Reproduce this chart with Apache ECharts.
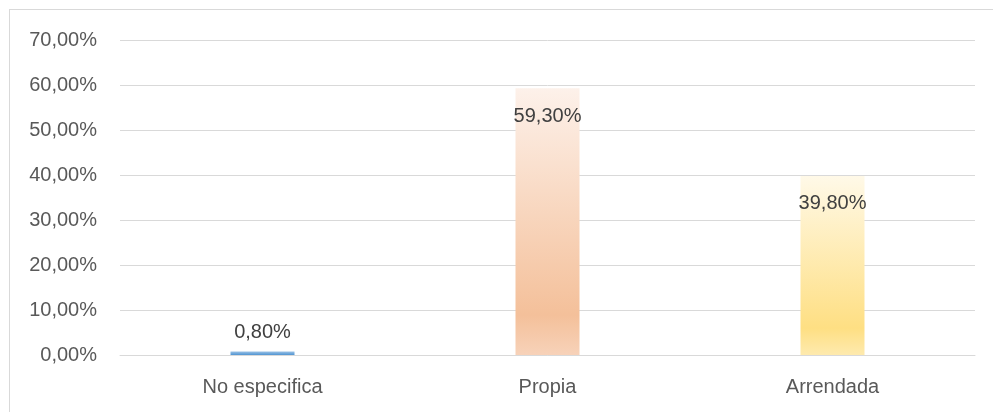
<!DOCTYPE html>
<html><head><meta charset="utf-8">
<script src="https://cdn.jsdelivr.net/npm/echarts@6/dist/echarts.min.js"></script>
<style>html,body{margin:0;padding:0;background:#fff}#c{width:993px;height:412px}
#frame{position:absolute;left:9px;top:9px;width:990px;height:420px;border:1px solid #d9d9d9;box-sizing:border-box;pointer-events:none}</style>
</head><body><div id="c"></div><div id="frame"></div>
<script>
const categories = ['No especifica', 'Propia', 'Arrendada'];
const values = [0.8, 59.3, 39.8];
const yTicks = [0, 10, 20, 30, 40, 50, 60, 70];

function grad(top, mid, bottom) {
  return new echarts.graphic.LinearGradient(0, 0, 0, 1, [
    {offset: 0, color: top}, {offset: 0.85, color: mid}, {offset: 1, color: bottom}
  ]);
}
const colors = [
  grad('#9dc3e6', '#5b9bd5', '#5b9bd5'),
  grad('#fdf1ea', '#f4c09a', '#f7d2b9'),
  grad('#fff9e8', '#fedf83', '#feeaae')
];
const fmt = v => v.toFixed(2).replace('.', ',') + '%';
const font = 'Liberation Sans';
const chart = echarts.init(document.getElementById('c'));
chart.setOption({
  animation: false,
  textStyle: {fontFamily: font},
  grid: {left: 120, right: 18, top: 40, bottom: 57},
  xAxis: {
    type: 'category', data: categories,
    axisLine: {lineStyle: {color: '#d9d9d9'}},
    axisTick: {show: false},
    axisLabel: {color: '#595959', fontSize: 20, margin: 22, fontFamily: font}
  },
  yAxis: {
    type: 'value', min: 0, max: 70, interval: 10,
    axisLine: {show: false}, axisTick: {show: false},
    splitLine: {lineStyle: {color: '#d9d9d9'}},
    axisLabel: {color: '#595959', fontSize: 20, margin: 23, fontFamily: font,
      formatter: v => yTicks.includes(v) ? fmt(v) : ''}
  },
  series: [{
    type: 'bar', barWidth: 64,
    data: values.map((v, i) => ({
      value: v,
      itemStyle: {color: colors[i]},
      label: v > 5 ? {position: 'insideTop', distance: 18} : {position: 'top', distance: 9}
    })),
    label: {show: true, color: '#404040', fontSize: 20, fontFamily: font,
      formatter: p => fmt(p.value)}
  }]
});
</script></body></html>
